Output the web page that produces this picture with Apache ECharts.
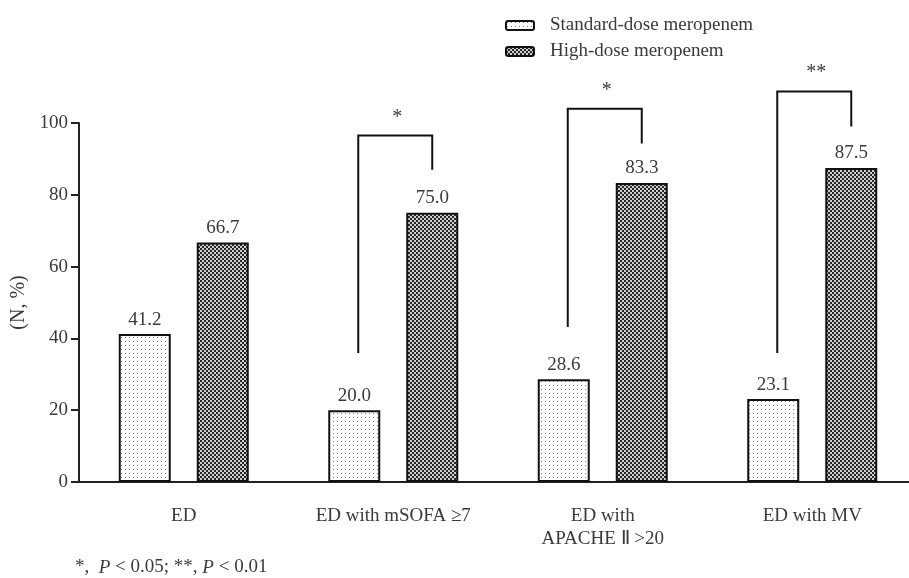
<!DOCTYPE html>
<html>
<head>
<meta charset="utf-8">
<script src="https://cdn.jsdelivr.net/npm/echarts@6/dist/echarts.min.js"></script>
<style>html,body{margin:0;padding:0;background:#fff;overflow:hidden;width:909px;height:578px;}#c{width:920px;height:578px;}</style>
</head>
<body>
<div id="c"></div>
<script>
var categories = ['ED', 'ED with mSOFA \u22657', 'ED with\nAPACHE \u2161 >20', 'ED with MV'];
var standardDose = [41.2, 20.0, 28.6, 23.1];
var highDose = [66.7, 75.0, 83.3, 87.5];
var yTicks = [0, 20, 40, 60, 80, 100];
// brackets: [category index, left end, top, right end, star height, mark]
var brackets = [
  [1, 35.9, 96.5, 87.0, 102.6, '*'],
  [2, 43.2, 104.0, 94.3, 110.0, '*'],
  [3, 35.9, 108.8, 99.0, 115.0, '**']
];

function makePattern(type) {
  var c = document.createElement('canvas');
  var ctx = c.getContext('2d');
  c.width = 4; c.height = 4;
  if (type === 'dots') {
    ctx.fillStyle = '#ffffff'; ctx.fillRect(0, 0, 4, 4);
    ctx.fillStyle = '#7a7a7a'; ctx.fillRect(1, 1, 1, 1);
  } else {
    ctx.fillStyle = '#d0d0d0'; ctx.fillRect(0, 0, 4, 4);
    ctx.fillStyle = '#262626'; ctx.fillRect(0, 0, 2, 2); ctx.fillRect(2, 2, 2, 2);
  }
  return { image: c, repeat: 'repeat' };
}

var FONT = 'Liberation Serif';
var TXT = '#3a3a3a';
var chart = echarts.init(document.getElementById('c'), null, { renderer: 'canvas' });
chart.setOption({
  animation: false,
  textStyle: { fontFamily: FONT, color: TXT },
  legend: {
    orient: 'vertical', left: 500, top: 11,
    itemWidth: 28, itemHeight: 9, itemGap: 7,
    textStyle: { fontFamily: FONT, fontSize: 19, color: TXT, padding: [0, 0, 0, 11] },
    data: ['Standard-dose meropenem', 'High-dose meropenem']
  },
  grid: { left: 79, top: 123, width: 838, bottom: 96 },
  xAxis: {
    type: 'category', data: categories,
    axisLine: { lineStyle: { color: '#222', width: 2 } },
    axisTick: { alignWithLabel: true, length: 6, lineStyle: { color: '#222', width: 2 } },
    axisLabel: { fontFamily: FONT, fontSize: 19, color: TXT, margin: 23, lineHeight: 23, interval: 0 }
  },
  yAxis: {
    type: 'value', min: yTicks[0], max: yTicks[yTicks.length - 1], interval: 20,
    name: '(N, %)', nameLocation: 'middle', nameGap: 46,
    nameTextStyle: { fontFamily: FONT, fontSize: 20, color: TXT },
    axisLine: { show: true, lineStyle: { color: '#222', width: 2 } },
    axisTick: { show: true, length: 8, lineStyle: { color: '#222', width: 2 } },
    axisLabel: { fontFamily: FONT, fontSize: 19, color: TXT, margin: 11 },
    splitLine: { show: false }
  },
  series: [
    {
      name: 'Standard-dose meropenem', type: 'bar', data: standardDose,
      barWidth: 52, barGap: '50%',
      itemStyle: { color: makePattern('dots'), borderColor: '#111', borderWidth: 2 },
      label: { show: true, position: 'top', distance: 5, fontFamily: FONT, fontSize: 19, color: TXT,
        formatter: function (p) { return p.value.toFixed(1); } }
    },
    {
      name: 'High-dose meropenem', type: 'bar', data: highDose,
      barWidth: 52, barGap: '50%',
      itemStyle: { color: makePattern('check'), borderColor: '#111', borderWidth: 2 },
      label: { show: true, position: 'top', distance: 5, fontFamily: FONT, fontSize: 19, color: TXT,
        formatter: function (p) { return p.value.toFixed(1); } }
    },
    {
      type: 'custom', clip: false, silent: true, data: brackets,
      renderItem: function (params, api) {
        var idx = api.value(0);
        var c0 = api.coord([idx, api.value(1)]);
        var cTop = api.coord([idx, api.value(2)]);
        var cR = api.coord([idx, api.value(3)]);
        var cS = api.coord([idx, api.value(4)]);
        var xl = c0[0] - 35, xr = c0[0] + 39;
        return {
          type: 'group',
          children: [
            { type: 'polyline', shape: { points: [[xl, c0[1]], [xl, cTop[1]], [xr, cTop[1]], [xr, cR[1]]] },
              style: { stroke: '#111', lineWidth: 2, fill: null } },
            { type: 'text', x: (xl + xr) / 2 + 2, y: cS[1] + 4,
              style: { text: brackets[params.dataIndex][5], fontFamily: FONT, fontSize: 20, fill: TXT,
                align: 'center', verticalAlign: 'middle' } }
          ]
        };
      }
    }
  ],
  graphic: [{
    type: 'text', left: 75, top: 558,
    style: {
      text: '*,  {i|P} < 0.05; **, {i|P} < 0.01',
      font: '19px "Liberation Serif"', fill: TXT,
      rich: { i: { fontStyle: 'italic', fontFamily: FONT, fontSize: 19, fill: TXT } }
    }
  }]
});
</script>
</body>
</html>
